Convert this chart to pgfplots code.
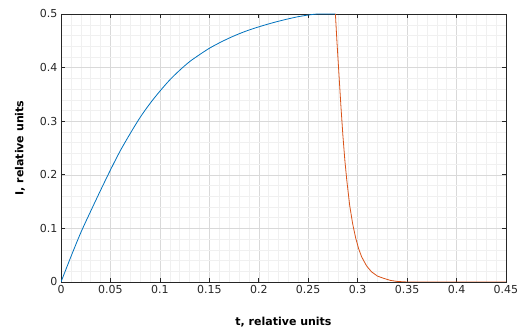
\documentclass[border=0pt]{standalone}
\usepackage{pgfplots}
\pgfplotsset{compat=1.18}
\usepackage{fontspec}
\setmainfont{DejaVu Sans}
\definecolor{mblue}{rgb}{0,0.447,0.741}
\definecolor{morange}{rgb}{0.85,0.325,0.098}
\definecolor{axgray}{gray}{0.15}
\begin{document}
\begin{tikzpicture}
\begin{axis}[
  scale only axis, width=445pt, height=268pt,
  xmin=0, xmax=0.45, ymin=0, ymax=0.5,
  xtick={0,0.05,0.1,0.15,0.2,0.25,0.3,0.35,0.4,0.45},
  xticklabels={0,0.05,0.1,0.15,0.2,0.25,0.3,0.35,0.4,0.45},
  ytick={0,0.1,0.2,0.3,0.4,0.5},
  yticklabels={0,0.1,0.2,0.3,0.4,0.5},
  minor x tick num=4, minor y tick num=4,
  grid=both,
  major grid style={black!15, line width=0.5pt},
  minor grid style={black!6, line width=0.4pt},
  tick align=inside, tick pos=both,
  major tick length=4pt, minor tick length=0pt,
  axis line style={axgray, line width=0.7pt},
  tick style={axgray, line width=0.6pt},
  ticklabel style={font=\fontsize{11}{13}\selectfont, text=axgray},
  /pgf/number format/assume math mode=true,
  xlabel={\textbf{t, relative units}},
  ylabel={\textbf{I, relative units}},
  label style={font=\fontsize{11}{13}\selectfont},
  xlabel style={at={(axis description cs:0.5,-0.149)}, anchor=center},
  ylabel style={at={(axis description cs:-0.092,0.5)}, anchor=center, rotate=0},
]
\coordinate (bl) at (rel axis cs:-0.1371,-0.1828);
\coordinate (tr) at (rel axis cs:1.036,1.0522);
\addplot[mblue, line width=0.8pt, smooth] coordinates {
(0,0)(0.01,0.047)(0.02,0.092)(0.03,0.132)(0.04,0.171)(0.05,0.209)(0.06,0.245)
(0.07,0.277)(0.08,0.307)(0.09,0.333)(0.10,0.356)(0.11,0.377)(0.12,0.395)
(0.13,0.411)(0.14,0.424)(0.15,0.436)(0.16,0.446)(0.17,0.455)(0.18,0.463)
(0.19,0.470)(0.20,0.476)(0.21,0.4815)(0.22,0.4865)(0.23,0.491)(0.24,0.495)
(0.25,0.498)(0.26,0.5)(0.2775,0.5)
};
\addplot[morange, line width=0.8pt] coordinates {
(0.2775,0.5)(0.279,0.45)(0.281,0.39)(0.283,0.33)(0.285,0.275)(0.287,0.228)
(0.289,0.19)(0.292,0.142)(0.295,0.108)(0.298,0.082)(0.301,0.062)(0.304,0.047)
(0.309,0.03)(0.314,0.019)(0.32,0.011)(0.326,0.007)(0.333,0.003)(0.34,0.001)
(0.35,0)(0.45,0)
};
\end{axis}
\path (bl) rectangle (tr);
\end{tikzpicture}
\end{document}
